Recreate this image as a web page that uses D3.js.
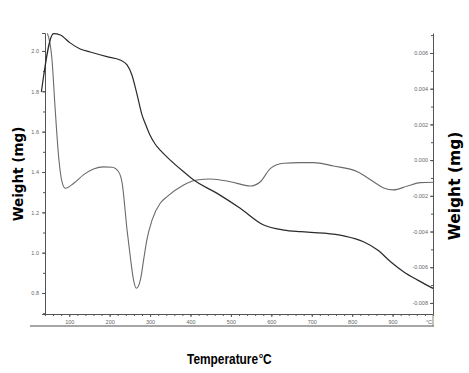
<!DOCTYPE html>
<html>
<head>
<meta charset="utf-8">
<script src="https://cdn.jsdelivr.net/npm/d3@7"></script>
<style>
  body { margin: 0; background: #fff; }
  svg { display: block; }
  .tick text { fill: #666; font-family: "Liberation Sans", Arial, sans-serif; font-size: 5.5px; }
  .tick line { stroke: #555; }
  .domain { stroke: #555; }
  .axis-title { font-family: "DejaVu Sans", Verdana, sans-serif; font-weight: bold; fill: #000; }
</style>
</head>
<body>
<svg width="469" height="373"></svg>
<script>
const svg = d3.select('svg');

// TG curve: temperature (°C) and weight (mg), left axis
const tgTemp = [31, 61, 78, 102, 127, 152, 193, 226, 243, 255, 268, 280, 290, 300, 312, 325,
  342, 383, 408, 466, 523, 581, 631, 672, 729, 779, 828, 863, 895, 927, 962, 1000];
const tgWeight = [1.797, 2.086, 2.079, 2.040, 2.010, 1.995, 1.972, 1.955, 1.931, 1.881, 1.782,
  1.683, 1.630, 1.582, 1.540, 1.508, 1.474, 1.401, 1.360, 1.294, 1.220, 1.137, 1.112, 1.104,
  1.097, 1.083, 1.054, 1.013, 0.955, 0.906, 0.864, 0.823];

// DTG curve: temperature (°C) and derivative, right axis
const dtgTemp = [46, 57, 65, 74, 82, 90, 111, 135, 160, 185, 206, 222, 231, 243, 251, 259, 266,
  276, 284, 292, 305, 325, 342, 383, 416, 449, 499, 548, 573, 598, 631, 672, 704, 754, 813,
  853, 878, 902, 937, 969, 1000];
const dtgValue = [0.0071, 0.00572, 0.00292, 0.00012, -0.00121, -0.00158, -0.00130, -0.00083,
  -0.00050, -0.00038, -0.00040, -0.00065, -0.0013, -0.00391, -0.00541, -0.00671, -0.00718,
  -0.00671, -0.00559, -0.00447, -0.00335, -0.00242, -0.00205, -0.00139, -0.00111, -0.00106,
  -0.00121, -0.00145, -0.00121, -0.00046, -0.00018, -0.00014, -0.00014, -0.00033, -0.00065,
  -0.00121, -0.00156, -0.00167, -0.00145, -0.00126, -0.00124];

// tick values
const xTicks = [100, 200, 300, 400, 500, 600, 700, 800, 900];
const leftTicks = [0.8, 1.0, 1.2, 1.4, 1.6, 1.8, 2.0];
const rightTicks = [-0.008, -0.006, -0.004, -0.002, 0, 0.002, 0.004, 0.006];

const plotLeft = 45, plotRight = 433, plotTop = 33, plotBottom = 314;

const x = d3.scaleLinear().domain([40, 1000]).range([plotLeft, plotRight]);
const yL = d3.scaleLinear().domain([0.696, 2.089]).range([plotBottom, plotTop]);
const yR = d3.scaleLinear().domain([-0.00862, 0.00712]).range([plotBottom, plotTop]);

// grey rule under the tick labels
svg.append('line')
  .attr('x1', 30).attr('x2', 434)
  .attr('y1', 326).attr('y2', 326)
  .attr('stroke', '#888').attr('stroke-width', 1.5);

// X axis
const xMinor = d3.range(40, 1001, 20);
svg.append('g')
  .attr('transform', `translate(0,${plotBottom})`)
  .call(d3.axisBottom(x).tickValues(xMinor).tickSize(2).tickFormat(''))
  .call(g => g.select('.domain').remove());
svg.append('g')
  .attr('transform', `translate(0,${plotBottom})`)
  .call(d3.axisBottom(x).tickValues(xTicks).tickSize(3).tickSizeOuter(0).tickPadding(3));
svg.append('text')
  .attr('x', x(1000) - 4).attr('y', plotBottom + 10)
  .attr('text-anchor', 'middle')
  .attr('fill', '#666')
  .style('font-family', '"Liberation Sans", Arial, sans-serif')
  .style('font-size', '5.5px')
  .text('°C');

// left axis
svg.append('g')
  .attr('transform', `translate(${plotLeft},0)`)
  .call(d3.axisLeft(yL).tickValues(d3.range(7, 21).map(d => d / 10)).tickSize(2).tickFormat(''))
  .call(g => g.select('.domain').remove());
svg.append('g')
  .attr('transform', `translate(${plotLeft},0)`)
  .call(d3.axisLeft(yL).tickValues(leftTicks).tickSize(3).tickSizeOuter(3).tickPadding(3)
    .tickFormat(d3.format('.1f')));

// right axis (ticks point inward)
svg.append('g')
  .attr('transform', `translate(${plotRight},0)`)
  .call(d3.axisLeft(yR).tickValues(d3.range(-8, 8).map(d => d / 1000)).tickSize(2).tickFormat(''))
  .call(g => g.select('.domain').remove());
const rAxis = svg.append('g')
  .attr('transform', `translate(${plotRight},0)`)
  .call(d3.axisLeft(yR).tickValues(rightTicks).tickSize(3).tickSizeOuter(0).tickPadding(2)
    .tickFormat(d => d.toFixed(3)));
rAxis.select('.domain').attr('stroke', '#7a8a70');
svg.append('line')
  .attr('x1', plotRight).attr('x2', plotRight)
  .attr('y1', plotBottom).attr('y2', 326)
  .attr('stroke', '#7a8a70');

// curves
const tgData = tgTemp.map((t, i) => [t, tgWeight[i]]);
const dtgData = dtgTemp.map((t, i) => [t, dtgValue[i]]);

svg.append('path')
  .datum(dtgData)
  .attr('fill', 'none')
  .attr('stroke', '#6a6a6a')
  .attr('stroke-width', 1.1)
  .attr('d', d3.line().x(d => x(d[0])).y(d => yR(d[1])).curve(d3.curveMonotoneX));

svg.append('path')
  .datum(tgData)
  .attr('fill', 'none')
  .attr('stroke', '#2a2a2a')
  .attr('stroke-width', 1.2)
  .attr('d', d3.line().x(d => x(d[0])).y(d => yL(d[1])).curve(d3.curveMonotoneX));

// axis titles
svg.append('text')
  .attr('class', 'axis-title')
  .attr('transform', 'translate(18,174) rotate(-90)')
  .attr('text-anchor', 'middle')
  .attr('dominant-baseline', 'central')
  .style('font-size', '13.5px')
  .text('Weight (mg)');

svg.append('text')
  .attr('class', 'axis-title')
  .attr('transform', 'translate(455,186) rotate(-90)')
  .attr('text-anchor', 'middle')
  .attr('dominant-baseline', 'central')
  .style('font-size', '15.5px')
  .text('Weight (mg)');

// x title as one text element with a raised "o", squeezed to the narrow look
const xTitle = svg.append('text')
  .attr('transform', 'translate(187,363.5) scale(0.82,1)')
  .style('font-family', '"Liberation Sans", Arial, sans-serif')
  .style('font-weight', 'bold')
  .style('font-size', '14.5px')
  .attr('fill', '#000');
xTitle.append('tspan').text('Temperature');
xTitle.append('tspan').attr('dx', 1).attr('dy', -6).style('font-size', '8px').text('o');
xTitle.append('tspan').attr('dy', 6).text('C');
</script>
</body>
</html>
